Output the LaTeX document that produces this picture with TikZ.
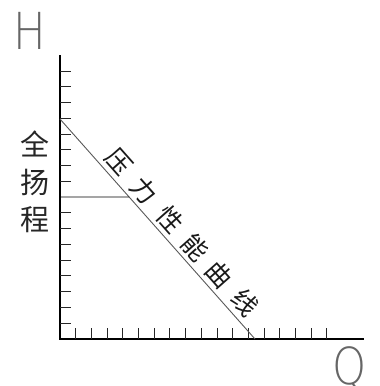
\documentclass[tikz,border=0pt]{standalone}
\usepackage{fontspec}
\usetikzlibrary{calc}
\newfontfamily\cjk{Noto Sans CJK SC}
\IfFontExistsTF{DejaVuSans-ExtraLight.ttf}{\newfontfamily\thinfont{DejaVuSans-ExtraLight.ttf}}{\newfontfamily\thinfont{DejaVu Sans}}
\begin{document}
\begin{tikzpicture}[x=1pt,y=-1pt,
  axisline/.style={line width=1.2pt,black},
  tickline/.style={line width=0.9pt,black!85},
  curveline/.style={line width=0.9pt,black!65},
  vlabel/.style={inner sep=0pt,font=\cjk\fontsize{29}{29}\selectfont,text=black!85},
  dlabel/.style={inner sep=0pt,rotate=-48.4,font=\cjk\fontsize{25.5}{25.5}\selectfont,text=black!90},
  axname/.style={inner sep=0pt,anchor=base,font=\thinfont\fontsize{51}{51}\selectfont,text=black!60}]
\useasboundingbox (0,0) rectangle (380,386);
% axes
\coordinate (top) at (60,55);
\coordinate (O) at (60,339);
\coordinate (right) at (364,339);
\draw[axisline] (top) -- (O) -- (right);
% y ticks
\foreach \k in {0,...,16}{
  \ifnum\k=8\else
    \draw[tickline] (60,71+15.75*\k) -- ++(11,0);
  \fi}
% x ticks
\foreach \k in {0,...,16}{
  \draw[tickline] (75.7+15.7*\k,339) -- ++(0,-11);}
% curve
\coordinate (A) at (60,119);
\coordinate (B) at (255,339);
\draw[curveline] (A) -- (B);
\coordinate (L) at (60,197);
\coordinate (M) at ($(A)!78/220!(B)$);
\draw[line width=0.9pt,black] (L) -- (M);
% axis names
\node[axname] (H) at (29.5,49) {\scalebox{0.85}[1]{H}};
\node[axname] (Q) at (349.5,384) {\scalebox{0.85}[1]{Q}};
% vertical label
\node[vlabel] (c1) at (35,144) {全};
\node[vlabel] (c2) at (35,182) {扬};
\node[vlabel] (c3) at (35,220) {程};
% diagonal label
\node[dlabel] (d1) at (119,162) {压};
\node[dlabel] (d2) at (144.5,190.5) {力};
\node[dlabel] (d3) at (170,219.5) {性};
\node[dlabel] (d4) at (195.5,248) {能};
\node[dlabel] (d5) at (219.5,275) {曲};
\node[dlabel] (d6) at (245,302.5) {线};
\end{tikzpicture}
\end{document}
